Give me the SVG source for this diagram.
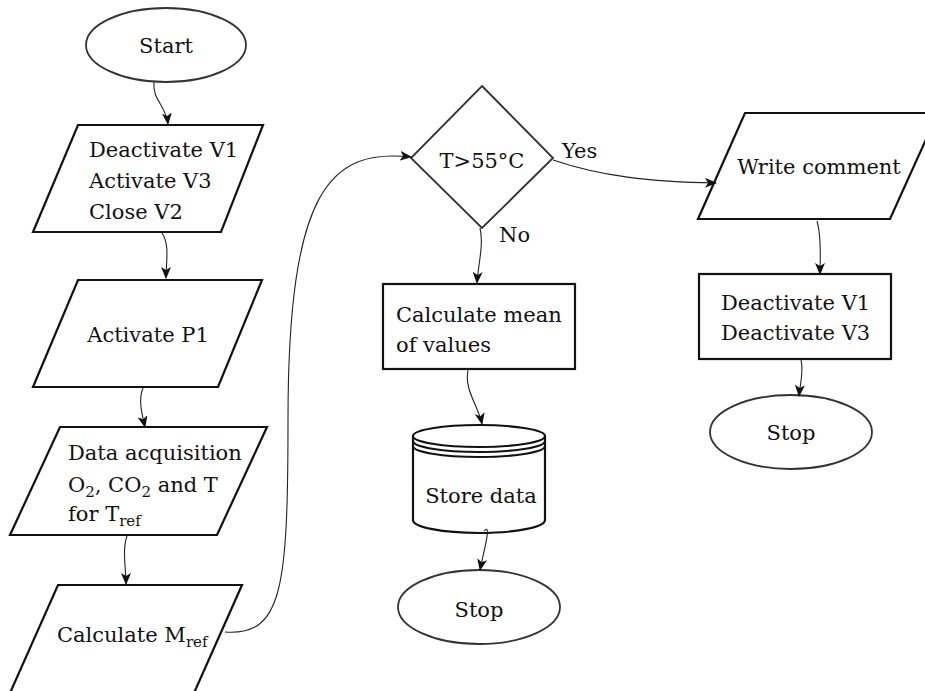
<svg xmlns="http://www.w3.org/2000/svg" width="925" height="691" viewBox="0 0 925 691">
<defs>
<style>
.shape{fill:#fff;stroke:#111;stroke-width:2.2;stroke-linejoin:miter}
.oval{fill:#fff;stroke:#333;stroke-width:1.8}
.conn{fill:none;stroke:#222;stroke-width:1.1}
text{font-family:"DejaVu Serif","Liberation Serif",serif;font-size:21px;fill:#111}
.sub{font-size:15px}
.mid{text-anchor:middle}
</style>
<marker id="arr" viewBox="0 0 12 10" refX="11" refY="5" markerWidth="12" markerHeight="10" markerUnits="userSpaceOnUse" orient="auto">
<path d="M0,0 L12,5 L0,10 L3,5 Z" fill="#111"/>
</marker>
</defs>
<rect width="925" height="691" fill="#fff"/>

<g id="start">
<ellipse class="oval" cx="166" cy="45" rx="80" ry="37"/>
<text class="mid" x="166" y="53">Start</text>
</g>

<g id="deactivate1">
<polygon class="shape" points="78,125 263,125 221,232 33,232"/>
<text x="89" y="157">Deactivate V1</text>
<text x="89" y="188">Activate V3</text>
<text x="89" y="219">Close V2</text>
</g>

<g id="activateP1">
<polygon class="shape" points="78,280 262,280 218,387 33,387"/>
<text class="mid" x="148" y="342">Activate P1</text>
</g>

<g id="dataacq">
<polygon class="shape" points="60,427 267,427 217,535 10,535"/>
<text x="68" y="460">Data acquisition</text>
<text x="68" y="492">O<tspan class="sub" dy="5">2</tspan><tspan dy="-5">, CO</tspan><tspan class="sub" dy="5">2</tspan><tspan dy="-5"> and T</tspan></text>
<text x="68" y="521">for T<tspan class="sub" dy="5">ref</tspan></text>
</g>

<g id="calcMref">
<polygon class="shape" points="58,585 242,585 194,693 10,693"/>
<text x="57" y="642">Calculate M<tspan class="sub" dy="5">ref</tspan></text>
</g>

<g id="decision">
<polygon class="oval" points="482,86 553,158 482,228 411,158"/>
<text class="mid" x="482" y="168">T&gt;55°C</text>
</g>

<g id="calcMean">
<rect class="shape" x="383" y="284" width="192" height="85"/>
<text x="396" y="322">Calculate mean</text>
<text x="396" y="352">of values</text>
</g>

<g id="storeData">
<path class="shape" d="M413,436 L413,520 A66,13 0 0 0 545,520 L545,436"/>
<ellipse class="shape" cx="479" cy="436" rx="66" ry="11"/>
<path class="shape" d="M413,441 A66,11 0 0 0 545,441" style="fill:none"/>
<path class="shape" d="M413,446 A66,11 0 0 0 545,446" style="fill:none"/>
<text class="mid" x="481" y="503">Store data</text>
</g>

<g id="stop1">
<ellipse class="oval" cx="479" cy="607" rx="81" ry="37"/>
<text class="mid" x="479" y="617">Stop</text>
</g>

<g id="writeComment">
<polygon class="shape" points="745,113 938,113 890,219 698,219"/>
<text class="mid" x="819" y="174">Write comment</text>
</g>

<g id="deactivate2">
<rect class="shape" x="699" y="274" width="192" height="85"/>
<text x="721" y="310">Deactivate V1</text>
<text x="721" y="340">Deactivate V3</text>
</g>

<g id="stop2">
<ellipse class="oval" cx="791" cy="432" rx="81" ry="37"/>
<text class="mid" x="791" y="440">Stop</text>
</g>

<g id="labels">
<text x="562" y="158">Yes</text>
<text x="499" y="242">No</text>
</g>

<g id="connectors">
<path class="conn" marker-end="url(#arr)" d="M154,82 C152,100 166,105 168,124"/>
<path class="conn" marker-end="url(#arr)" d="M162,233 C170,245 166,262 166,278"/>
<path class="conn" marker-end="url(#arr)" d="M143,388 C138,400 142,414 145,427"/>
<path class="conn" marker-end="url(#arr)" d="M127,536 C122,550 126,568 126,584"/>
<path class="conn" marker-end="url(#arr)" d="M225,632 C282,636 288,590 288,420 C288,190 330,148 411,157"/>
<path class="conn" marker-end="url(#arr)" d="M553,160 C600,176 650,182 716,183"/>
<path class="conn" marker-end="url(#arr)" d="M480,228 C484,245 478,265 477,283"/>
<path class="conn" marker-end="url(#arr)" d="M468,370 C464,390 478,405 482,424"/>
<path class="conn" marker-end="url(#arr)" d="M484,531 C492,522 484,550 480,570"/>
<path class="conn" marker-end="url(#arr)" d="M817,221 C822,238 820,258 820,274"/>
<path class="conn" marker-end="url(#arr)" d="M801,360 C804,372 800,384 799,396"/>
</g>
</svg>
